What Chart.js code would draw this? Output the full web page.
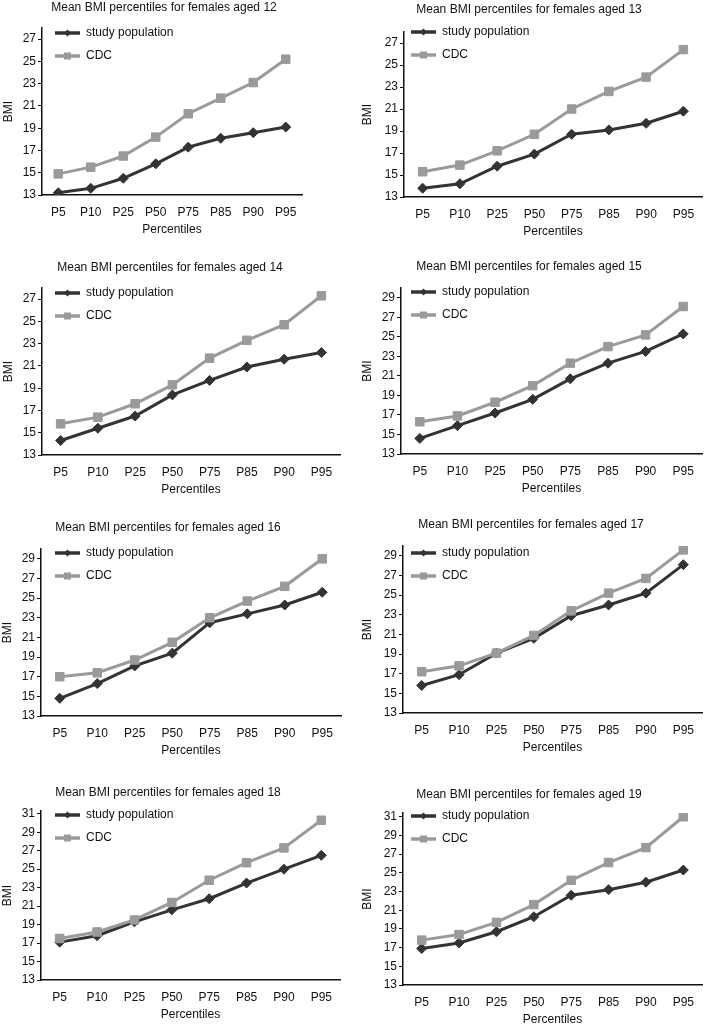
<!DOCTYPE html>
<html>
<head>
<meta charset="utf-8">
<script src="https://cdn.jsdelivr.net/npm/chart.js@4.4.1/dist/chart.umd.min.js"></script>
<style>
  html, body { margin: 0; padding: 0; background: #fff; }
  #wrap { position: relative; width: 709px; height: 1026px; overflow: hidden; }
  #wrap canvas { position: absolute; }
</style>
</head>
<body>
<div id="wrap"></div>
<script>
// categories and tick labels
const percentiles = ['P5', 'P10', 'P25', 'P50', 'P75', 'P85', 'P90', 'P95'];
const ages = [12, 13, 14, 15, 16, 17, 18, 19];
const ticksTo27 = [13, 15, 17, 19, 21, 23, 25, 27];
const ticksTo29 = [13, 15, 17, 19, 21, 23, 25, 27, 29];
const ticksTo31 = [13, 15, 17, 19, 21, 23, 25, 27, 29, 31];

// mean BMI per percentile
const study12 = [13.2, 13.6, 14.5, 15.8, 17.3, 18.1, 18.6, 19.1];
const cdc12   = [14.9, 15.5, 16.5, 18.2, 20.3, 21.7, 23.1, 25.2];
const study13 = [13.8, 14.2, 15.8, 16.9, 18.7, 19.1, 19.7, 20.8];
const cdc13   = [15.3, 15.9, 17.2, 18.7, 21.0, 22.6, 23.9, 26.4];
const study14 = [14.3, 15.4, 16.5, 18.4, 19.7, 20.9, 21.6, 22.2];
const cdc14   = [15.8, 16.4, 17.6, 19.3, 21.7, 23.3, 24.7, 27.3];
const study15 = [14.6, 15.9, 17.2, 18.6, 20.7, 22.3, 23.5, 25.3];
const cdc15   = [16.3, 16.9, 18.3, 20.0, 22.3, 24.0, 25.2, 28.1];
const study16 = [14.8, 16.3, 18.1, 19.4, 22.5, 23.4, 24.3, 25.6];
const cdc16   = [17.0, 17.4, 18.7, 20.5, 23.0, 24.7, 26.2, 29.0];
const study17 = [15.8, 16.9, 19.1, 20.6, 22.9, 24.0, 25.2, 28.1];
const cdc17   = [17.2, 17.8, 19.1, 20.9, 23.4, 25.2, 26.7, 29.6];
const study18 = [17.1, 17.8, 19.3, 20.6, 21.8, 23.5, 25.0, 26.5];
const cdc18   = [17.5, 18.2, 19.5, 21.4, 23.8, 25.7, 27.3, 30.3];
const study19 = [16.9, 17.5, 18.7, 20.3, 22.6, 23.2, 24.0, 25.3];
const cdc19   = [17.8, 18.4, 19.7, 21.6, 24.2, 26.1, 27.7, 31.0];

const studySeries = [study12, study13, study14, study15, study16, study17, study18, study19];
const cdcSeries = [cdc12, cdc13, cdc14, cdc15, cdc16, cdc17, cdc18, cdc19];
const yTickSets = [ticksTo27, ticksTo27, ticksTo27, ticksTo29, ticksTo29, ticksTo29, ticksTo31, ticksTo31];
const yMaxes = [28, 28, 28, 30, 30, 30, 31.3, 31.4];

// panel layout (cell position + plot box inside the cell)
const panels = [
  { x: 0,   y: 0,   w: 354, h: 256, aL: 42, aT: 28, aB: 195, aR: 302, bmiX: 8,  tX: 164, tY: 8,  lX: 55, lY: 33 },
  { x: 354, y: 0,   w: 355, h: 256, aL: 50, aT: 32, aB: 197, aR: 354, bmiX: 13, tX: 175, tY: 10, lX: 57, lY: 32 },
  { x: 0,   y: 256, w: 354, h: 256, aL: 42, aT: 32, aB: 199, aR: 340, bmiX: 8,  tX: 170, tY: 12, lX: 55, lY: 37 },
  { x: 354, y: 256, w: 355, h: 256, aL: 47, aT: 32, aB: 198, aR: 348, bmiX: 13, tX: 175, tY: 11, lX: 57, lY: 36 },
  { x: 0,   y: 512, w: 354, h: 256, aL: 41, aT: 37, aB: 204, aR: 341, bmiX: 7,  tX: 168, tY: 16, lX: 55, lY: 41 },
  { x: 354, y: 512, w: 355, h: 256, aL: 49, aT: 34, aB: 201, aR: 352, bmiX: 13, tX: 177, tY: 13, lX: 57, lY: 41 },
  { x: 0,   y: 768, w: 354, h: 258, aL: 41, aT: 43, aB: 212, aR: 340, bmiX: 7,  tX: 168, tY: 25, lX: 55, lY: 47 },
  { x: 354, y: 768, w: 355, h: 258, aL: 49, aT: 45, aB: 217, aR: 351, bmiX: 13, tX: 175, tY: 27, lX: 57, lY: 48 }
];

const FONT = '"Liberation Sans", Arial, Helvetica, sans-serif';
Chart.defaults.font.family = FONT;
Chart.defaults.font.size = 12;
Chart.defaults.color = '#111';

// title + legend drawn inside the plot, like the original figure
const panelText = {
  id: 'panelText',
  afterDraw(chart, args, opts) {
    const ctx = chart.ctx;
    ctx.save();
    ctx.font = '12px ' + FONT;
    ctx.fillStyle = '#111';
    ctx.textAlign = 'center';
    ctx.textBaseline = 'middle';
    ctx.fillText(opts.text, opts.tX, opts.tY);
    chart.data.datasets.forEach((ds, k) => {
      const y = opts.lY + k * 23;
      const mx = opts.lX + 12.5;
      ctx.strokeStyle = ds.borderColor;
      ctx.fillStyle = ds.borderColor;
      ctx.lineWidth = 3.5;
      ctx.beginPath();
      ctx.moveTo(opts.lX, y);
      ctx.lineTo(opts.lX + 25, y);
      ctx.stroke();
      ctx.beginPath();
      if (ds.pointStyle === 'rectRot') {
        ctx.moveTo(mx, y - 3.5); ctx.lineTo(mx + 3.5, y); ctx.lineTo(mx, y + 3.5); ctx.lineTo(mx - 3.5, y);
      } else {
        ctx.rect(mx - 3.5, y - 3.5, 7, 7);
      }
      ctx.closePath();
      ctx.fill();
      ctx.fillStyle = '#111';
      ctx.textAlign = 'left';
      ctx.fillText(ds.label, opts.lX + 31, y);
    });
    ctx.restore();
  }
};

const wrap = document.getElementById('wrap');
const X_AXIS_H = 42;

ages.forEach((age, i) => {
  const p = panels[i];
  const cv = document.createElement('canvas');
  cv.width = p.w;
  cv.height = p.h;
  cv.style.left = p.x + 'px';
  cv.style.top = p.y + 'px';
  wrap.appendChild(cv);

  const padLeft = p.bmiX - 7;
  const yAxisW = p.aL - padLeft;

  new Chart(cv, {
    type: 'line',
    data: {
      labels: percentiles,
      datasets: [{
        label: 'study population',
        data: studySeries[i],
        borderColor: '#333333',
        backgroundColor: '#333333',
        borderWidth: 3,
        pointStyle: 'rectRot',
        pointRadius: 5,
        pointHoverRadius: 5,
        pointBorderWidth: 1,
        tension: 0,
        order: 2
      }, {
        label: 'CDC',
        data: cdcSeries[i],
        borderColor: '#9a9a9a',
        backgroundColor: '#9a9a9a',
        borderWidth: 3,
        pointStyle: 'rect',
        pointRadius: 6,
        pointHoverRadius: 6,
        pointBorderWidth: 1,
        tension: 0,
        order: 1
      }]
    },
    options: {
      responsive: false,
      animation: false,
      events: [],
      layout: {
        padding: { left: padLeft, top: p.aT, right: p.w - p.aR, bottom: p.h - p.aB - X_AXIS_H }
      },
      plugins: {
        legend: { display: false },
        tooltip: { enabled: false },
        panelText: { text: 'Mean BMI percentiles for females aged ' + age, tX: p.tX, tY: p.tY, lX: p.lX, lY: p.lY }
      },
      scales: {
        x: {
          offset: true,
          grid: { display: false, drawTicks: false },
          border: { display: true, color: '#111', width: 1.5 },
          ticks: { color: '#111', padding: 10, maxRotation: 0, autoSkip: false },
          title: { display: true, text: 'Percentiles', color: '#111', padding: 0 },
          afterFit: s => { s.height = X_AXIS_H; }
        },
        y: {
          min: 13,
          max: yMaxes[i],
          afterBuildTicks: s => { s.ticks = yTickSets[i].map(v => ({ value: v })); },
          afterFit: s => { s.width = yAxisW; },
          grid: { display: true, drawOnChartArea: false, drawTicks: true, tickLength: 4, color: '#111', lineWidth: 1 },
          border: { display: true, color: '#111', width: 1.5 },
          ticks: { color: '#111', padding: 2 },
          title: { display: true, text: 'BMI', color: '#111', padding: 0 }
        }
      }
    },
    plugins: [panelText]
  });
});
</script>
</body>
</html>
